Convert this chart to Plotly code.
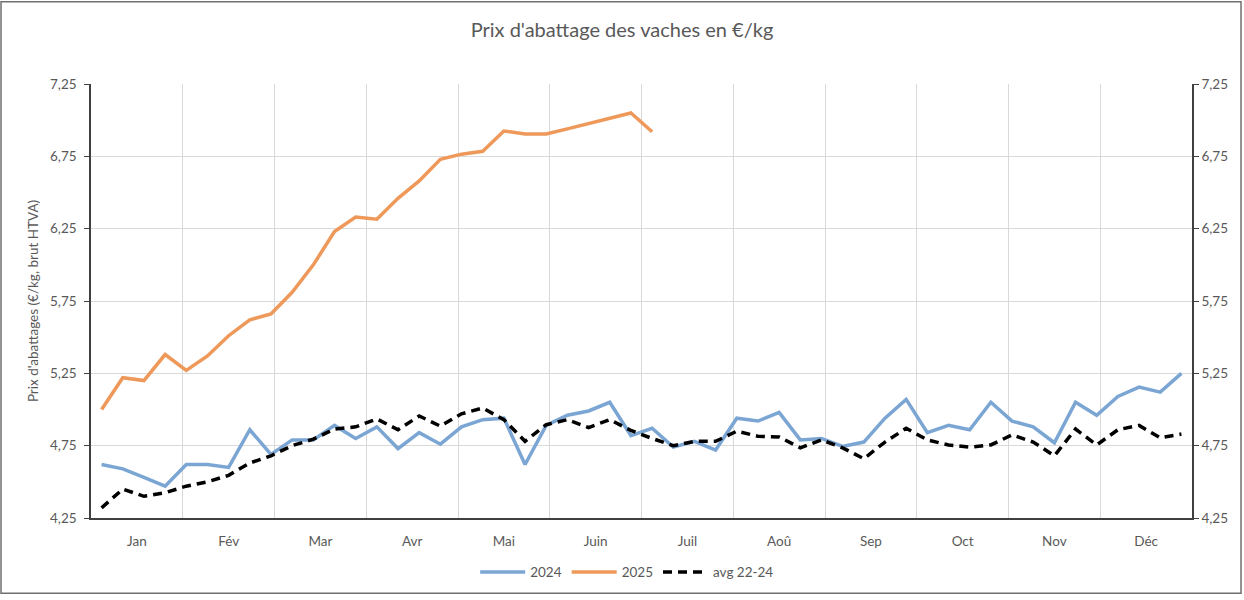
import plotly.graph_objects as go

months = ["Jan", "Fév", "Mar", "Avr", "Mai", "Juin", "Juil", "Aoû", "Sep", "Oct", "Nov", "Déc"]

weeks_per_year = 52

prix_2024 = [4.62, 4.59, 4.53, 4.47, 4.62, 4.62, 4.60, 4.86, 4.69, 4.79, 4.79, 4.89,
             4.80, 4.88, 4.73, 4.84, 4.76, 4.88, 4.93, 4.94, 4.62, 4.89, 4.96, 4.99,
             5.05, 4.82, 4.87, 4.74, 4.78, 4.72, 4.94, 4.92, 4.98, 4.79, 4.80, 4.745,
             4.775, 4.94, 5.07, 4.84, 4.89, 4.86, 5.05, 4.92, 4.88, 4.77, 5.05, 4.96,
             5.09, 5.155, 5.12, 5.25]

prix_2025 = [5.00, 5.22, 5.20, 5.38, 5.27, 5.37, 5.51, 5.62, 5.66, 5.81, 6.00, 6.23,
             6.33, 6.315, 6.46, 6.58, 6.73, 6.765, 6.785, 6.925, 6.905, 6.905, 6.94,
             6.975, 7.01, 7.05, 6.92]

avg_22_24 = [4.32, 4.45, 4.40, 4.425, 4.47, 4.50, 4.545, 4.63, 4.68, 4.75, 4.795, 4.865,
             4.88, 4.935, 4.86, 4.955, 4.885, 4.97, 5.01, 4.93, 4.78, 4.895, 4.93, 4.875,
             4.93, 4.855, 4.80, 4.75, 4.78, 4.78, 4.85, 4.815, 4.81, 4.735, 4.79, 4.735,
             4.66, 4.775, 4.87, 4.79, 4.755, 4.74, 4.755, 4.825, 4.775, 4.68, 4.865, 4.755,
             4.86, 4.89, 4.805, 4.83]

y_ticks = [4.25, 4.75, 5.25, 5.75, 6.25, 6.75, 7.25]


def xpos(n):
    return [i + 0.5 for i in range(n)]


month_len = weeks_per_year / 12
month_centers = [(k + 0.5) * month_len for k in range(12)]

FONT = "Lato, 'Open Sans', sans-serif"
GREY = "#595959"

fig = go.Figure()
fig.add_trace(go.Scatter(x=xpos(len(prix_2024)), y=prix_2024, mode="lines", name="2024",
                         line=dict(color="#7BA6D4", width=3.5)))
fig.add_trace(go.Scatter(x=xpos(len(prix_2025)), y=prix_2025, mode="lines", name="2025",
                         line=dict(color="#EE985A", width=3.5)))
fig.add_trace(go.Scatter(x=xpos(len(avg_22_24)), y=avg_22_24, mode="lines", name="avg 22-24",
                         line=dict(color="#000000", width=3.5, dash="9px,6px")))
# invisible trace to anchor right axis
fig.add_trace(go.Scatter(x=xpos(len(prix_2024)), y=prix_2024, mode="lines", yaxis="y2",
                         line=dict(width=0), opacity=0, showlegend=False, hoverinfo="skip"))

fig.update_layout(
    width=1244, height=600,
    margin=dict(l=91, r=52, t=84, b=78),
    paper_bgcolor="white", plot_bgcolor="white",
    separators=", ",
    font=dict(family=FONT, color=GREY, size=13),
    title=dict(text="Prix d'abattage des vaches en €/kg", x=0.5, xanchor="center",
               y=0.95, yanchor="middle", font=dict(size=20, color=GREY, family=FONT)),
    xaxis=dict(range=[0, weeks_per_year], tickvals=month_centers, ticktext=months,
               showgrid=False, zeroline=False, showline=True, linecolor="#404040", linewidth=1.5,
               ticks="", tickfont=dict(size=13.5, color=GREY), ticklabelstandoff=10,
               minor=dict(tick0=0, dtick=month_len, showgrid=True, gridcolor="#D9D9D9",
                          gridwidth=1, ticks="")),
    yaxis=dict(range=[4.25, 7.25], tickvals=y_ticks, tickformat=".2f",
               showgrid=True, gridcolor="#D9D9D9", gridwidth=1, zeroline=False,
               showline=True, linecolor="#404040", linewidth=1.5,
               ticks="outside", ticklen=5, tickcolor="#404040", ticklabelstandoff=5,
               tickfont=dict(size=13.5, color=GREY),
               title=dict(text="Prix d'abattages (€/kg, brut HTVA)", standoff=8,
                          font=dict(size=13.5, color=GREY))),
    yaxis2=dict(range=[4.25, 7.25], tickvals=y_ticks, tickformat=".2f", overlaying="y",
                side="right", showgrid=False, zeroline=False, showline=True,
                linecolor="#404040", linewidth=1.5, ticks="outside", ticklen=5,
                tickcolor="#404040", tickfont=dict(size=13.5, color=GREY)),
    legend=dict(orientation="h", x=0.487, xanchor="center", y=-0.125, yanchor="middle",
                font=dict(size=13.5, color=GREY), itemwidth=45, traceorder="normal"),
    showlegend=True,
)

fig.add_shape(type="rect", xref="paper", yref="paper",
              x0=(1 - 91) / 1101, x1=(1241 - 91) / 1101,
              y0=(522 - 598) / 438, y1=(522 - 1) / 438,
              line=dict(color="#707070", width=1.5), fillcolor="rgba(0,0,0,0)", layer="below")

fig.write_html("out.html", config={"displayModeBar": False},
               post_script="document.body.style.margin='0';")
